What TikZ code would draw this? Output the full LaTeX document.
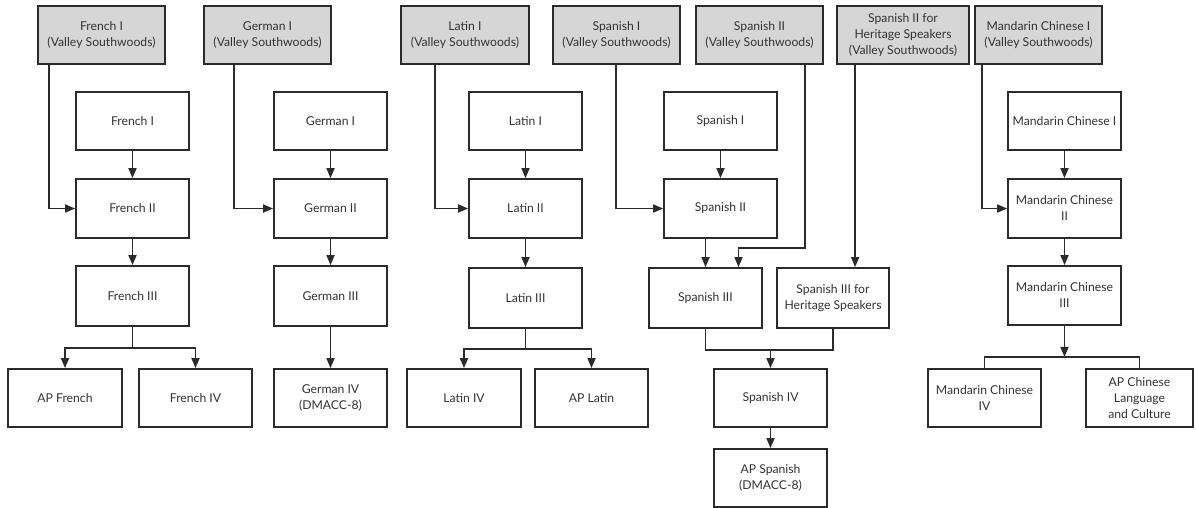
\documentclass[tikz,border=0pt]{standalone}
\usepackage{fontspec}
\setmainfont{Lato}
\usetikzlibrary{arrows.meta,calc}
\definecolor{linec}{HTML}{2B2B2B}
\definecolor{grayf}{HTML}{D6D6D6}
\definecolor{textc}{HTML}{333333}
\newcommand\course[7]{\node[#1, minimum width={(#5-#3)*1pt}, minimum height={(#6-#4)*1pt}] (#2) at ({(#3+#5)/2},{(#4+#6)/2}) {#7};}
\begin{document}
\begin{tikzpicture}[x=1pt,y=-1pt,
  box/.style={draw=linec, line width=1.8pt, fill=white, align=center, inner sep=0pt, text=textc, font=\fontsize{12.2}{16}\selectfont},
  vsbox/.style={box, fill=grayf},
  arr/.style={draw=linec, line width=1.7pt, -{Triangle[length=10pt,width=8pt]}},
  ln/.style={draw=linec, line width=1.7pt}]
\useasboundingbox (0,0) rectangle (1196,508);
% top row
\course{vsbox}{fvs}{38}{6}{165}{64}{French I\\(Valley Southwoods)}
\course{vsbox}{gvs}{204}{6}{331}{64}{German I\\(Valley Southwoods)}
\course{vsbox}{lvs}{401}{6}{529}{64}{Latin I\\(Valley Southwoods)}
\course{vsbox}{svsa}{553}{6}{680}{64}{Spanish I\\(Valley Southwoods)}
\course{vsbox}{svsb}{696}{6}{823}{64}{Spanish II\\(Valley Southwoods)}
\course{vsbox}{shvs}{837}{6}{969}{64}{Spanish II for\\Heritage Speakers\\(Valley Southwoods)}
\course{vsbox}{mvs}{975}{6}{1102}{64}{Mandarin Chinese I\\(Valley Southwoods)}
% French
\course{box}{fa}{76}{92}{189}{150}{French I}
\course{box}{fb}{76}{179}{189}{238}{French II}
\course{box}{fc}{76}{266}{189}{326}{French III}
\course{box}{apf}{8}{369}{122}{427}{AP French}
\course{box}{fd}{139}{369}{252}{427}{French IV}
% German
\course{box}{ga}{274}{92}{387}{150}{German I}
\course{box}{gb}{274}{179}{387}{238}{German II}
\course{box}{gc}{274}{266}{387}{326}{German III}
\course{box}{gd}{274}{369}{387}{427}{German IV\\(DMACC-8)}
% Latin
\course{box}{la}{469}{92}{582}{150}{Latin I}
\course{box}{lb}{469}{179}{582}{238}{Latin II}
\course{box}{lc}{469}{268}{582}{328}{Latin III}
\course{box}{ld}{407}{369}{521}{427}{Latin IV}
\course{box}{apl}{535}{369}{648}{427}{AP Latin}
% Spanish
\course{box}{sa}{664}{92}{777}{150}{Spanish I}
\course{box}{sb}{664}{179}{777}{238}{Spanish II}
\course{box}{sc}{649}{268}{762}{328}{Spanish III}
\course{box}{shc}{777}{268}{889}{328}{Spanish III for\\Heritage Speakers}
\course{box}{sd}{714}{369}{827}{427}{Spanish IV}
\course{box}{aps}{714}{449}{827}{507}{AP Spanish\\(DMACC-8)}
% Mandarin
\course{box}{ma}{1008}{92}{1121}{150}{Mandarin Chinese I}
\course{box}{mb}{1008}{179}{1121}{238}{Mandarin Chinese\\II}
\course{box}{mc}{1008}{266}{1121}{325}{Mandarin Chinese\\III}
\course{box}{md}{928}{369}{1041}{427}{Mandarin Chinese\\IV}
\course{box}{apc}{1086}{369}{1193}{427}{AP Chinese\\Language\\and Culture}
% connectors: French
\draw[arr] ([xshift=12pt]fvs.south west) |- (fb.west);
\draw[arr] (fa) -- (fb);
\draw[arr] (fb) -- (fc);
\draw[ln] (fc.south) -- ++(0,21) coordinate (fj);
\draw[arr] (fj) -| (apf.north);
\draw[arr] (fj) -| (fd.north);
% German
\draw[arr] ([xshift=31pt]gvs.south west) |- (gb.west);
\draw[arr] (ga) -- (gb);
\draw[arr] (gb) -- (gc);
\draw[arr] (gc) -- (gd);
% Latin
\draw[arr] ([xshift=35pt]lvs.south west) |- (lb.west);
\draw[arr] (la) -- (lb);
\draw[arr] (lb) -- (lc);
\draw[ln] (lc.south) -- ++(0,20) coordinate (lj);
\draw[arr] (lj) -| (ld.north);
\draw[arr] (lj) -| (apl.north);
% Spanish
\draw[arr] ([xshift=64pt]svsa.south west) |- (sb.west);
\draw[arr] (sa) -- (sb);
\draw[arr] (sc.north |- sb.south) -- (sc.north);
\draw[arr] ([xshift=-19pt]svsb.south east) -- ++(0,183) -| ([xshift=33pt]sc.north);
\draw[arr] ([xshift=19pt]shvs.south west) -- ([xshift=19pt]shvs.south west |- shc.north);
\draw[ln] (sc.south) -- ++(0,21) coordinate (sj) -| (shc.south);
\draw[arr] (sj -| sd.north) -- (sd.north);
\draw[arr] (sd) -- (aps);
% Mandarin
\draw[arr] ([xshift=8pt]mvs.south west) |- (mb.west);
\draw[arr] (ma) -- (mb);
\draw[arr] (mb) -- (mc);
\draw[arr] (mc.south) -- ++(0,31) coordinate (mj);
\draw[ln] (md.north) -- (md.north |- mj) -- (apc.north |- mj) -- (apc.north);
\end{tikzpicture}
\end{document}
